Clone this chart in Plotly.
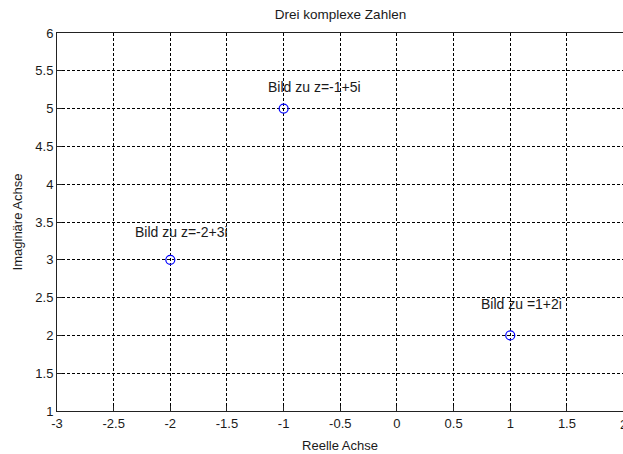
import plotly.graph_objects as go

# data
re_vals = [-2, -1, 1]
im_vals = [3, 5, 2]
labels = ["Bild zu z=-2+3i", "Bild zu z=-1+5i", "Bild zu =1+2i"]
label_x = [-2.33, -1.155, 0.72]
label_y = [3.37, 5.28, 2.42]
x_ticks = [-3, -2.5, -2, -1.5, -1, -0.5, 0, 0.5, 1, 1.5, 2]
y_ticks = [1, 1.5, 2, 2.5, 3, 3.5, 4, 4.5, 5, 5.5, 6]
x_range = [-3, 1.995]
y_range = [1, 6]

FONT = "Liberation Sans, Arial, sans-serif"
TXT = "#1a1a1a"

fig = go.Figure()
fig.add_trace(go.Scatter(
    x=re_vals, y=im_vals, mode="markers",
    marker=dict(symbol="circle-open", size=9, color="#0000ff", line=dict(width=1.2, color="#0000ff")),
    hoverinfo="skip", showlegend=False,
))

for lx, ly, t in zip(label_x, label_y, labels):
    fig.add_annotation(x=lx, y=ly, xref="x", yref="y", text=t, showarrow=False,
                       xanchor="left", yanchor="middle",
                       font=dict(family=FONT, size=14, color=TXT))

# partially visible tick label "2" at the clipped right edge
fig.add_annotation(x=(x_ticks[-1] - x_range[0]) / (x_range[1] - x_range[0]), y=0,
                   xref="paper", yref="paper", text=str(x_ticks[-1]), showarrow=False,
                   xanchor="center", yanchor="top", yshift=-4,
                   font=dict(family=FONT, size=13, color=TXT))

axis_common = dict(
    showgrid=True, gridcolor="#000000", gridwidth=1, griddash="3px,2px",
    showline=True, linecolor="#222222", linewidth=1,
    ticks="inside", ticklen=5, tickcolor="#222222",
    zeroline=False, tickfont=dict(family=FONT, size=13, color=TXT),
)

fig.update_xaxes(range=x_range, tickvals=x_ticks, ticktext=[f"{v:g}" for v in x_ticks],
                 mirror=True, title=dict(text="Reelle Achse", standoff=11,
                                         font=dict(family=FONT, size=13, color=TXT)),
                 **axis_common)
fig.update_yaxes(range=y_range, tickvals=y_ticks, ticktext=[f"{v:g}" for v in y_ticks],
                 mirror=False, title=dict(text="Imaginäre Achse", standoff=9,
                                          font=dict(family=FONT, size=13, color=TXT)),
                 **axis_common)

fig.update_layout(
    width=623, height=454,
    margin=dict(l=57, r=0, t=33, b=43),
    paper_bgcolor="white", plot_bgcolor="white",
    title=dict(text="Drei komplexe Zahlen", x=(57 + 624) / 2 / 623, xanchor="center",
               y=1 - 14 / 454, yanchor="middle",
               font=dict(family=FONT, size=13.5, color=TXT)),
)

fig.write_html("out.html", config={"displayModeBar": False})
